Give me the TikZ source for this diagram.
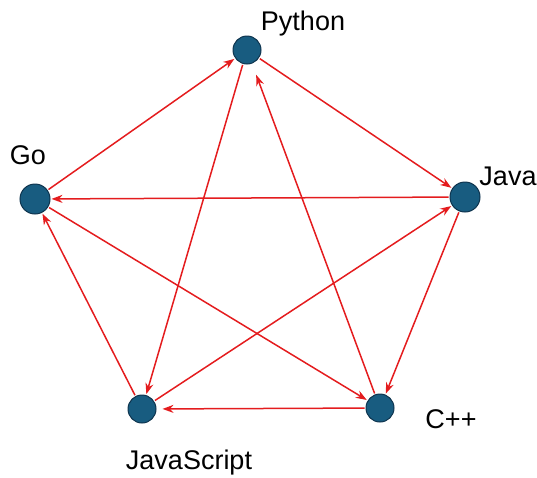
\documentclass[tikz,border=0pt]{standalone}
\usepackage{fontspec}
\setmainfont{Liberation Sans}
\usetikzlibrary{arrows.meta}
\definecolor{nodefill}{RGB}{24,92,128}
\definecolor{nodeline}{RGB}{14,52,78}
\definecolor{edgered}{RGB}{228,28,30}
\tikzset{
  lang/.style={circle, draw=nodeline, fill=nodefill, line width=1pt, minimum width=28pt, minimum height=30pt, inner sep=0pt},
  lbl/.style={font=\fontsize{27}{31}\selectfont, inner sep=0pt},
  edge/.style={draw=edgered, line width=1.5pt, -{Stealth[length=11pt,width=8pt]}, shorten >=1pt, shorten <=1pt}
}
\begin{document}
\begin{tikzpicture}[x=1pt,y=-1pt]
\useasboundingbox (0,0) rectangle (537,477);
\node[lang, minimum height=28pt] (py) at (247,50) {};
\node[lang] (ja) at (465,197) {};
\node[lang, minimum height=28pt] (cp) at (380,408) {};
\node[lang, minimum height=28pt] (js) at (142,409) {};
\node[lang] (go) at (35,199) {};
\node[lbl] (pyl) at (303,24) {Python};
\node[lbl] (jal) at (508,176) {Java};
\node[lbl] (gol) at (28,155) {Go};
\node[lbl] (cpl) at (451,419) {C++};
\node[lbl] (jsl) at (189,463) {JavaScript};
\draw[edge] (go) -- (py);
\draw[edge] (py) -- (ja);
\draw[edge] (ja) -- (go);
\draw[edge] (ja) -- (cp);
\draw[edge, shorten >=6pt] (cp) -- (js);
\draw[edge] (js) -- (go);
\draw[edge] (py) -- (js);
\draw[edge, shorten >=12pt] (cp) -- (py);
\draw[edge] (go) -- (cp);
\draw[edge] (js) -- (ja);
\end{tikzpicture}
\end{document}
